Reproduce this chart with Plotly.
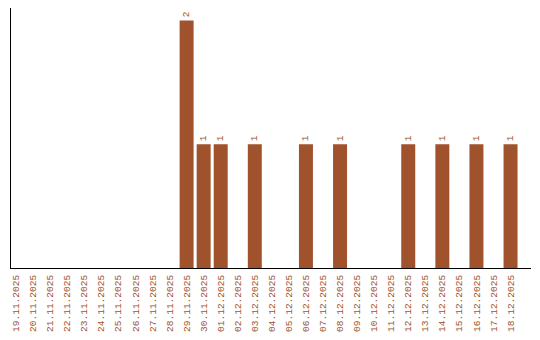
import plotly.graph_objects as go

dates = ["19.11.2025", "20.11.2025", "21.11.2025", "22.11.2025", "23.11.2025",
         "24.11.2025", "25.11.2025", "26.11.2025", "27.11.2025", "28.11.2025",
         "29.11.2025", "30.11.2025", "01.12.2025", "02.12.2025", "03.12.2025",
         "04.12.2025", "05.12.2025", "06.12.2025", "07.12.2025", "08.12.2025",
         "09.12.2025", "10.12.2025", "11.12.2025", "12.12.2025", "13.12.2025",
         "14.12.2025", "15.12.2025", "16.12.2025", "17.12.2025", "18.12.2025"]
counts = [0, 0, 0, 0, 0, 0, 0, 0, 0, 0,
          2, 1, 1, 0, 1, 0, 0, 1, 0, 1,
          0, 0, 0, 1, 0, 1, 0, 1, 0, 1]

color = "#A0522D"
labels = [str(v) if v > 0 else "" for v in counts]

fig = go.Figure(go.Bar(
    x=dates, y=counts, marker_color=color, marker_line_width=0,
    text=labels, textposition="outside", textangle=-90,
    textfont=dict(family="Liberation Mono", size=9.5, color=color),
    cliponaxis=False,
))
fig.update_layout(
    width=540, height=340,
    margin=dict(l=11, r=9, t=8, b=70),
    paper_bgcolor="white", plot_bgcolor="white",
    bargap=0.18, showlegend=False,
    font=dict(family="Liberation Mono", size=9.5, color=color),
)
fig.update_xaxes(type="category", range=[-0.3, 30.2], tickangle=-90,
                 showline=True, linecolor="black", linewidth=1.2,
                 showgrid=False, ticks="", ticklabelstandoff=2,
                 tickfont=dict(color=color, size=9.5, family="Liberation Mono"))
fig.update_yaxes(range=[0, 2.1], showline=True, linecolor="black", linewidth=1.2,
                 showgrid=False, showticklabels=False, ticks="", zeroline=False)
fig.write_html("out.html")
